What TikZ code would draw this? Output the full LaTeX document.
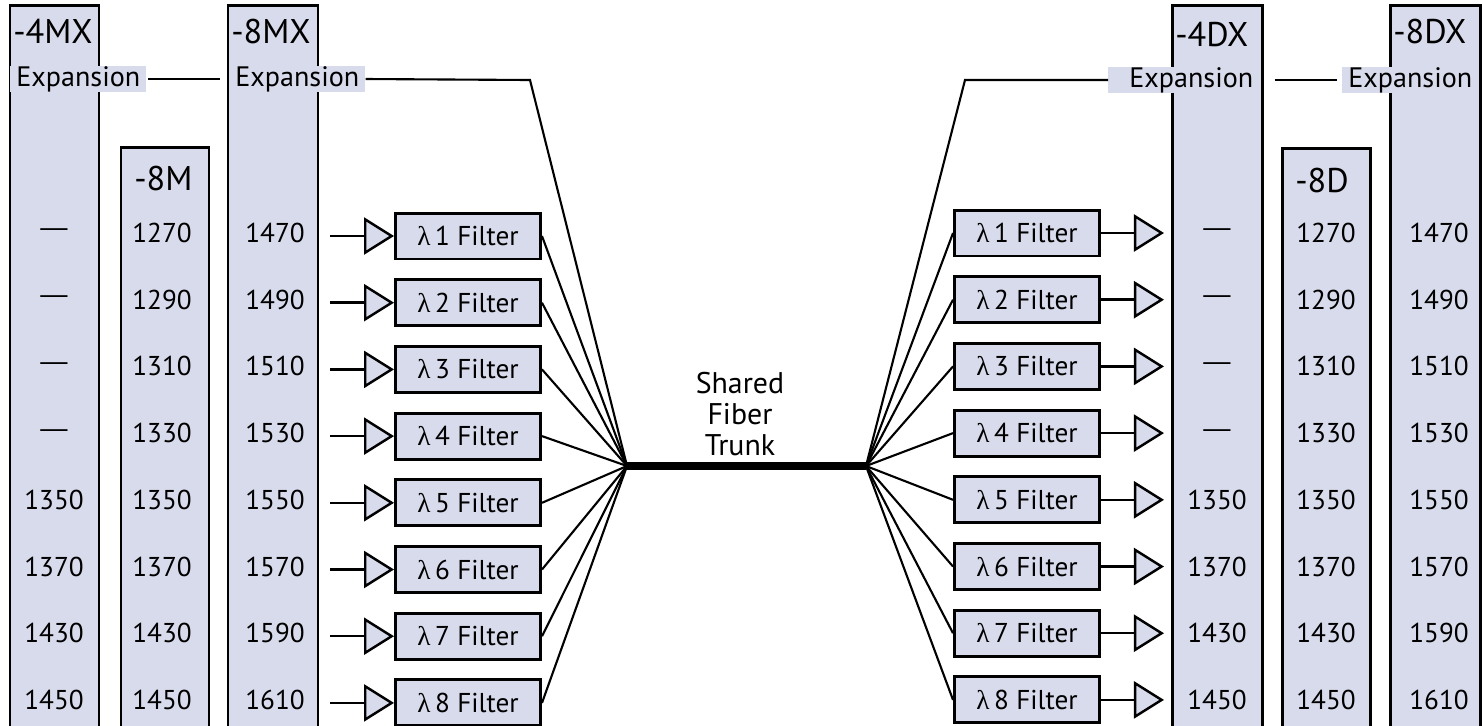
\documentclass[tikz,border=0pt]{standalone}
\usepackage{fontspec}
\setmainfont{PT Sans}
\newfontfamily\grk{Liberation Serif}
\newfontfamily\dsh{Liberation Sans}
\usetikzlibrary{arrows.meta}

\definecolor{boxfill}{RGB}{216,219,235}

\begin{document}
\begin{tikzpicture}
[x=0.02cm,y=-0.02cm
,colbox/.style={draw,line width=1.7pt,fill=boxfill}
,hd/.style={font=\fontsize{19.5}{19.5}\selectfont,inner sep=0pt,anchor=west}
,num/.style={font=\fontsize{15.5}{16}\selectfont,inner sep=0pt}
,expn/.style={fill=boxfill,font=\fontsize{16}{16}\selectfont,inner xsep=0.12cm,inner ysep=0pt,minimum height=0.52cm,anchor=west}
,flt/.style={draw,line width=1.7pt,fill=boxfill,minimum width=2.9cm,minimum height=0.92cm,inner sep=0pt,font=\fontsize{15.5}{15.5}\selectfont}
,sig/.style={line width=1.4pt,arrows={-Triangle[fill=boxfill,length=0.6cm,width=0.74cm]}}
,fib/.style={line width=1.2pt}
]
\clip (0,0) rectangle (1482,725);
\draw[colbox] (10,5) rectangle (99,730);
\draw[colbox] (121,147) rectangle (209,730);
\draw[colbox] (228,5) rectangle (318,730);
\draw[colbox] (1172,5) rectangle (1262,730);
\draw[colbox] (1282,148) rectangle (1370,730);
\draw[colbox] (1390,5) rectangle (1480,730);
\node[hd] (h4mx) at (13,31) {-4MX};
\node[hd] (h8m) at (134,178) {-8M};
\node[hd] (h8mx) at (231,31) {-8MX};
\node[hd] (h4dx) at (1175,34) {-4DX};
\node[hd] (h8d) at (1295,180) {-8D};
\node[hd] (h8dx) at (1393,31) {-8DX};
\node[expn] (e4mx) at (10,79) {Expansion};
\node[expn] (e8mx) at (229,79) {Expansion};
\node[expn] (e4dx) at (1108,80) {\hspace*{0.3cm}Expansion};
\node[expn] (e8dx) at (1342,80) {Expansion};
\foreach \a/\b/\c [count=\i] in {{\dsh —}/1270/1470,{\dsh —}/1290/1490,
  {\dsh —}/1310/1510,{\dsh —}/1330/1530,1350/1350/1550,1370/1370/1570,
  1430/1430/1590,1450/1450/1610}
{
  \node[num] (m4x\i) at (54,{233+66.7*(\i-1)}) {\a};
  \node[num] (m8\i) at (162,{233+66.7*(\i-1)}) {\b};
  \node[num] (m8x\i) at (275,{233+66.7*(\i-1)}) {\c};
  \node[num] (d4x\i) at (1217,{233+66.7*(\i-1)}) {\a};
  \node[num] (d8\i) at (1326,{233+66.7*(\i-1)}) {\b};
  \node[num] (d8x\i) at (1439,{233+66.7*(\i-1)}) {\c};
}
\coordinate (hl) at (627,466);
\coordinate (hr) at (866,466);
\coordinate (bl) at (530,80);
\coordinate (br) at (965,80);
\foreach \i in {1,...,8}
{
  \node[flt] (lf\i) at (468,{236+66.7*(\i-1)}) {{\grk λ}\,\i\ Filter};
  \node[flt] (rf\i) at (1027,{233+66.7*(\i-1)}) {{\grk λ}\,\i\ Filter};
  \draw[sig] ([xshift=-1.28cm]lf\i.west) -- (lf\i.west);
  \draw[sig] (rf\i.east) -- ++(63,0);
  \draw[fib] (lf\i.east) -- (hl);
  \draw[fib] (hr) -- (rf\i.west);
}
\draw[fib,shorten <=1pt,shorten >=5pt] (e4mx.east) -- (e8mx.west);
\draw[fib] (e8mx.east) -- (bl) -- (hl);
\draw[fib] (hr) -- (br) -- (e4dx.west);
\draw[fib,shorten <=8.5pt,shorten >=3pt] (e4dx.east) -- (e8dx.west);
\draw[line width=4pt] (hl) -- (hr);
\node[font=\fontsize{17}{17.7}\selectfont,align=center,anchor=south,inner sep=0pt] (trunk) at (740,456) {Shared\\Fiber\\Trunk};
\end{tikzpicture}
\end{document}
